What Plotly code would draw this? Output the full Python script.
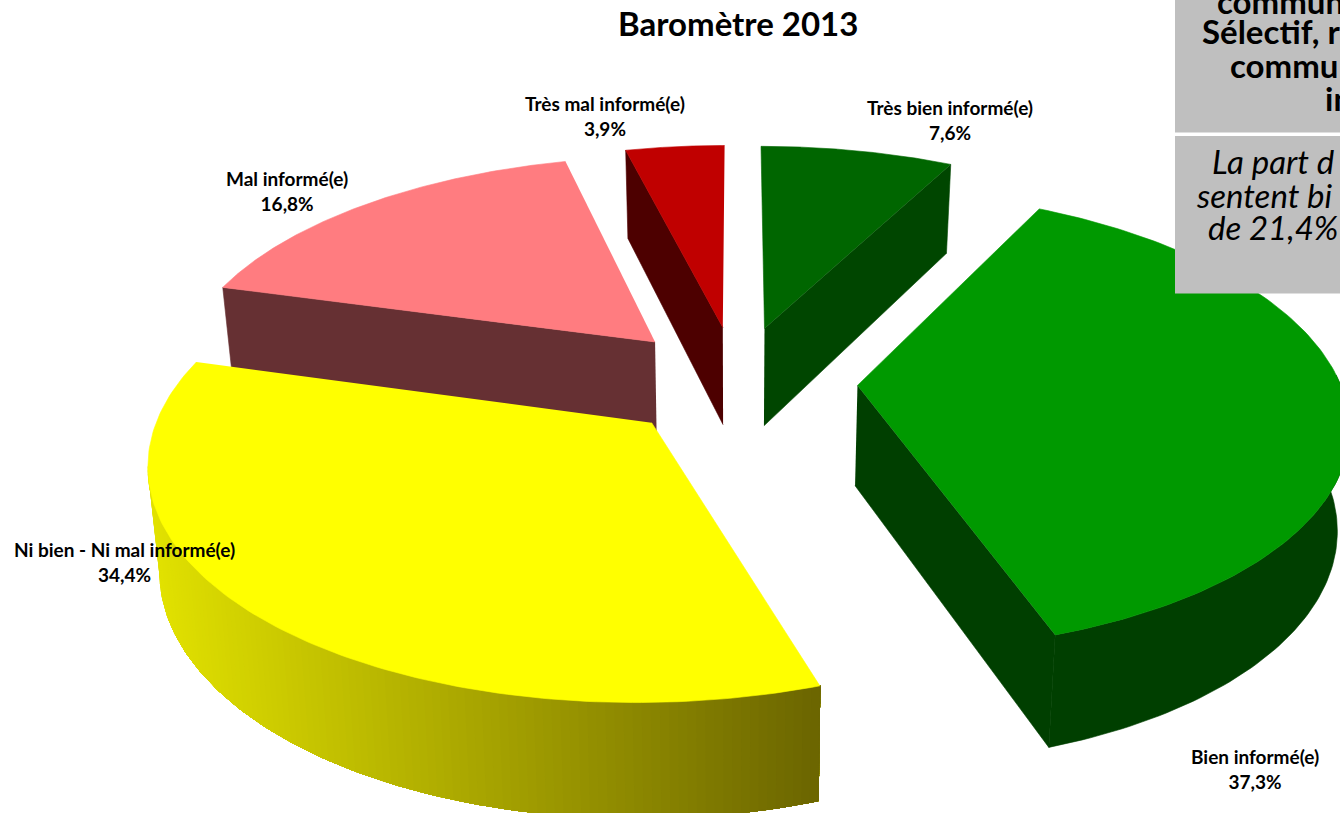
import numpy as np
import plotly.graph_objects as go

categories = ["Très bien informé(e)", "Bien informé(e)", "Ni bien - Ni mal informé(e)", "Mal informé(e)", "Très mal informé(e)"]
values = [7.6, 37.3, 34.4, 16.8, 3.9]
value_labels = ["7,6%", "37,3%", "34,4%", "16,8%", "3,9%"]
title_text = "Baromètre 2013"

top_colors = ["#006600", "#009900", "#FFFF00", "#FF7C80", "#C00000"]
wall_colors = ["#004600", "#003F00", None, "#663033", "#4D0000"]
yellow_left = (226, 226, 0)
yellow_right = (107, 101, 0)
# drawing order, back to front
draw_order = [4, 0, 3, 2, 1]
label_x = [950, 1255, 124, 287, 605]
label_y = [120, 769, 562, 191, 116]

# projection of the tilted pie
cx, cy = 737, 381
rx, ry = 482, 224
persp = 0.15
explode = 0.25
depth = 100
bottom_shrink = 0.98
font = "Lato"


def project(u, v, lower=False):
    w = 1 + persp * np.asarray(v)
    x = cx + rx * np.asarray(u) / w
    y = cy - ry * np.asarray(v) / w
    if lower:
        x = cx + (x - cx) * bottom_shrink
        y = y + depth / w ** 0.75
    return x, y


def add_poly(fig, x, y, color):
    fig.add_trace(go.Scatter(x=list(x), y=list(y), mode="lines", fill="toself", fillcolor=color,
                             line=dict(color=color, width=0.6), hoverinfo="skip", showlegend=False))


fig = go.Figure()

edges = np.cumsum([0] + values) / 100 * 2 * np.pi
for i in draw_order:
    a0, a1 = edges[i], edges[i + 1]
    mid = (a0 + a1) / 2
    ou, ov = explode * np.sin(mid), explode * np.cos(mid)
    ang = np.linspace(a0, a1, 140)
    ru, rv = ou + np.sin(ang), ov + np.cos(ang)

    # flat cut faces that turn towards the viewer
    for a in (a0, a1):
        normal = a - np.pi / 2 if a == a0 else a + np.pi / 2
        if wall_colors[i] and np.cos(normal) < 0:
            eu = np.array([ou, ou + np.sin(a)])
            ev = np.array([ov, ov + np.cos(a)])
            tx, ty = project(eu, ev)
            bx, by = project(eu, ev, lower=True)
            add_poly(fig, [tx[0], tx[1], bx[1], bx[0]], [ty[0], ty[1], by[1], by[0]], wall_colors[i])

    # outer wall on the front half
    front = (np.cos(ang) < 0.05)
    if front.any():
        fu, fv = ru[front], rv[front]
        tx, ty = project(fu, fv)
        bx, by = project(fu, fv, lower=True)
        if wall_colors[i]:
            add_poly(fig, np.r_[tx, bx[::-1]], np.r_[ty, by[::-1]], wall_colors[i])
        else:
            # yellow wall is shaded left to right, each band painted over the last so no seams show
            left = int(np.argmin(tx))
            tx, ty, bx, by = tx[left::-1], ty[left::-1], bx[left::-1], by[left::-1]
            x_lo, x_hi = tx[0], tx[-1]
            for k in range(len(tx) - 1):
                t = ((tx[k] + tx[k + 1]) / 2 - x_lo) / (x_hi - x_lo)
                r, g, b = [int(round(p + (q - p) * t)) for p, q in zip(yellow_left, yellow_right)]
                add_poly(fig, np.r_[tx[k:], bx[k:][::-1]], np.r_[ty[k:], by[k:][::-1]], f"rgb({r},{g},{b})")

    # top face
    px, py = project(np.r_[ou, ru], np.r_[ov, rv])
    add_poly(fig, px, py, top_colors[i])

# grey comment boxes, cut by the page edge like the source
fig.add_shape(type="rect", x0=1175, x1=1345, y0=-5, y1=132.5, fillcolor="#BFBFBF", line_width=0, layer="above")
fig.add_shape(type="rect", x0=1175, x1=1345, y0=136, y1=293.5, fillcolor="#BFBFBF", line_width=0, layer="above")

fig.add_annotation(x=738, y=23, text=f"<b>{title_text}</b>", showarrow=False,
                   font=dict(family=font, size=33, color="black"), xanchor="center", yanchor="middle")

for name, val, lx, ly in zip(categories, value_labels, label_x, label_y):
    fig.add_annotation(x=lx, y=ly, text=f"<b>{name}</b><br><b>{val}</b>", showarrow=False, align="center",
                       font=dict(family=font, size=19, color="black"), xanchor="center", yanchor="middle")

bold_lines = ["communi", "Sélectif, r", "commu", "in"]
bold_x = [1215, 1200, 1228, 1323]
bold_y = [1, 31, 65, 98]
italic_lines = ["La part d", "sentent bi", "de 21,4%"]
italic_x = [1210, 1194, 1206]
italic_y = [161, 195, 227]
for txt, lx, ly in zip(bold_lines, bold_x, bold_y):
    fig.add_annotation(x=lx, y=ly, text=f"<b>{txt}</b>", showarrow=False, xanchor="left", yanchor="middle",
                       font=dict(family=font, size=33, color="black"))
for txt, lx, ly in zip(italic_lines, italic_x, italic_y):
    fig.add_annotation(x=lx, y=ly, text=f"<i>{txt}</i>", showarrow=False, xanchor="left", yanchor="middle",
                       font=dict(family=font, size=33, color="black"))

fig.update_xaxes(range=[0, 1340], visible=False, fixedrange=True)
fig.update_yaxes(range=[813, 0], visible=False, fixedrange=True)
fig.update_layout(width=1340, height=813, margin=dict(l=0, r=0, t=0, b=0),
                  plot_bgcolor="white", paper_bgcolor="white", showlegend=False)

fig.write_html("out.html", config={"displayModeBar": False},
               post_script="document.body.style.margin='0';document.documentElement.style.overflow='hidden';")
